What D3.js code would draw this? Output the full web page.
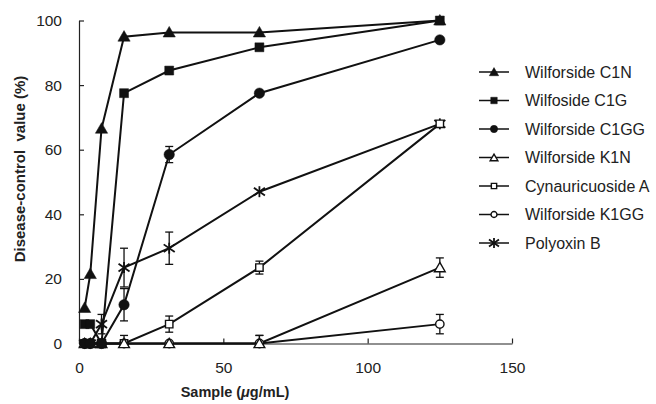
<!DOCTYPE html>
<html>
<head>
<meta charset="utf-8">
<script src="https://cdn.jsdelivr.net/npm/d3@7"></script>
<style>
  body { margin: 0; background: #fff; }
  svg { display: block; font-family: "Liberation Sans", Arial, sans-serif; }
</style>
</head>
<body>
<script>
// concentrations tested (ug/mL)
let conc = [1.95, 3.9, 7.8, 15.6, 31.25, 62.5, 125]

let names = ['Wilforside C1N', 'Wilfoside C1G', 'Wilforside C1GG', 'Wilforside K1N',
             'Cynauricuoside A', 'Wilforside K1GG', 'Polyoxin B']

let c1n    = [11, 21.5, 66.5, 95, 96.3, 96.3, 100]
let c1g    = [6, 6, 0, 77.5, 84.5, 91.7, 100]
let c1gg   = [0, 0, 0, 12, 58.5, 77.5, 94]
let k1n    = [0, 0, 0, 0, 0, 0, 23.5]
let cynA   = [0, 0, 0, 0, 6, 23.5, 68]
let k1gg   = [0, 0, 0, 0, 0, 0, 6]
let polyB  = [0, 0, 6, 23.5, 29.5, 47, 68]

// error bars (+/-)
let c1nErr   = [0, 0, 0, 0, 0, 0, 0]
let c1gErr   = [0, 0, 0, 0, 0, 0, 0]
let c1ggErr  = [0, 0, 0, 5, 2.5, 0, 0]
let k1nErr   = [0, 0, 0, 0, 0, 2.5, 3]
let cynAErr  = [0, 0, 0, 2.5, 2.5, 2, 0]
let k1ggErr  = [0, 0, 0, 0, 0, 2.5, 3]
let polyBErr = [0, 0, 3, 6, 5, 0, 0]

let xTicks = [0, 50, 100, 150]
let yTicks = [0, 20, 40, 60, 80, 100]

let series = [
  {name: names[0], vals: c1n,   err: c1nErr,   shape: 'tri',  fill: true},
  {name: names[1], vals: c1g,   err: c1gErr,   shape: 'sq',   fill: true},
  {name: names[2], vals: c1gg,  err: c1ggErr,  shape: 'circ', fill: true},
  {name: names[3], vals: k1n,   err: k1nErr,   shape: 'tri',  fill: false},
  {name: names[4], vals: cynA,  err: cynAErr,  shape: 'sq',   fill: false},
  {name: names[5], vals: k1gg,  err: k1ggErr,  shape: 'circ', fill: false},
  {name: names[6], vals: polyB, err: polyBErr, shape: 'star', fill: false},
]

let W = 656, H = 404
let svg = d3.select('body').append('svg').attr('width', W).attr('height', H)

let x = d3.scaleLinear().domain([0, 150]).range([79, 512])
let y = d3.scaleLinear().domain([0, 100]).range([343.5, 20.5])

// axes
let xAxis = svg.append('g')
  .attr('transform', `translate(0, ${y(0)})`)
  .call(d3.axisBottom(x).tickValues(xTicks).tickSizeInner(-5).tickSizeOuter(0).tickPadding(18))
let yAxis = svg.append('g')
  .attr('transform', `translate(${x(0)}, 0)`)
  .call(d3.axisLeft(y).tickValues(yTicks).tickSizeInner(-5).tickSizeOuter(0).tickPadding(17))

for (let ax of [xAxis, yAxis]) {
  ax.selectAll('path, line').attr('stroke', '#222').attr('stroke-width', 1.2)
  ax.selectAll('text').attr('font-size', 15.5).attr('fill', '#222')
    .attr('font-family', '"Liberation Sans", Arial, sans-serif')
}

// axis titles
let xt = svg.append('text')
  .attr('x', 235).attr('y', 397)
  .attr('text-anchor', 'middle')
  .attr('font-size', 14.5).attr('font-weight', 'bold').attr('fill', '#222')
xt.append('tspan').text('Sample (')
xt.append('tspan').attr('font-style', 'italic').text('\u03bc')
xt.append('tspan').text('g/mL)')

svg.append('text')
  .attr('transform', 'translate(25, 169) rotate(-90)')
  .attr('text-anchor', 'middle')
  .attr('font-size', 15).attr('font-weight', 'bold').attr('fill', '#222')
  .style('white-space', 'pre')
  .text('Disease-control  value (%)')

// marker drawing
function marker(g, shape, fill, cx, cy, legend) {
  let col = '#111'
  if (shape == 'star') {
    let r = legend ? 5 : 5.5
    let p = g.append('g').attr('stroke', col).attr('stroke-width', 1.8)
    p.append('line').attr('x1', cx - r).attr('y1', cy - r * 0.7).attr('x2', cx + r).attr('y2', cy + r * 0.7)
    p.append('line').attr('x1', cx - r).attr('y1', cy + r * 0.7).attr('x2', cx + r).attr('y2', cy - r * 0.7)
    p.append('line').attr('x1', cx).attr('y1', cy - r).attr('x2', cx).attr('y2', cy + r)
    return
  }
  let type = shape == 'tri' ? d3.symbolTriangle : shape == 'sq' ? d3.symbolSquare : d3.symbolCircle
  let size
  if (fill) size = shape == 'tri' ? 65 : shape == 'sq' ? 80 : 85
  else size = shape == 'tri' ? 50 : shape == 'sq' ? 55 : 55
  if (legend) size = fill ? (shape == 'tri' ? 38 : 42) : (shape == 'tri' ? 26 : 28)
  g.append('path')
    .attr('d', d3.symbol().type(type).size(size)())
    .attr('transform', `translate(${cx}, ${cy + (shape == 'tri' ? 1 : 0)})`)
    .attr('fill', fill ? col : '#fff')
    .attr('stroke', col)
    .attr('stroke-width', fill ? 0.5 : 1.4)
}

let line = d3.line().x((d, i) => x(conc[i])).y(d => y(d))

let plot = svg.append('g')
series.forEach(s => {
  plot.append('path')
    .attr('d', line(s.vals))
    .attr('fill', 'none')
    .attr('stroke', '#111')
    .attr('stroke-width', 2)
})

// open markers underneath, filled ones on top
series.slice().reverse().forEach(s => {
  let g = plot.append('g')
  s.vals.forEach((v, i) => {
    let e = s.err[i]
    if (e > 0) {
      let cx = x(conc[i])
      g.append('line').attr('x1', cx).attr('x2', cx).attr('y1', y(Math.max(0, v - e))).attr('y2', y(v + e))
        .attr('stroke', '#111').attr('stroke-width', 1.3)
      for (let yy of [v - e, v + e]) {
        if (yy < 0) continue
        g.append('line').attr('x1', cx - 4).attr('x2', cx + 4).attr('y1', y(yy)).attr('y2', y(yy))
          .attr('stroke', '#111').attr('stroke-width', 1.3)
      }
    }
    marker(g, s.shape, s.fill, x(conc[i]), y(v), false)
  })
})

// legend
let leg = svg.append('g')
series.forEach((s, i) => {
  let yy = 72 + i * 28.5
  leg.append('line').attr('x1', 479).attr('x2', 509).attr('y1', yy).attr('y2', yy)
    .attr('stroke', '#111').attr('stroke-width', 1.5)
  marker(leg, s.shape, s.fill, 494, yy, true)
  leg.append('text').attr('x', 525).attr('y', yy + 5.5)
    .attr('font-size', 16).attr('fill', '#222').text(s.name)
})
</script>
</body>
</html>
